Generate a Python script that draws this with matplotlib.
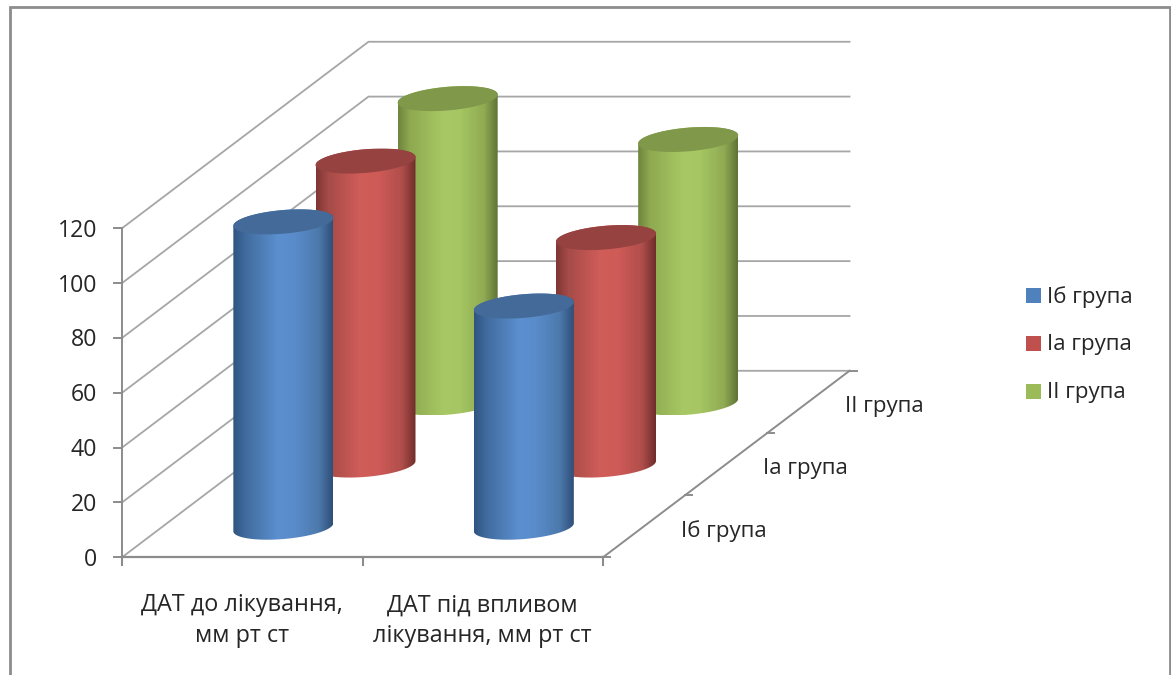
import numpy as np
import matplotlib
matplotlib.use("Agg")
import matplotlib.pyplot as plt
from matplotlib.path import Path
from matplotlib.patches import PathPatch
from matplotlib.colors import to_rgb

# Data
categories = ["ДАТ до лікування,\nмм рт ст", "ДАТ під впливом\nлікування, мм рт ст"]
groups = ["Іб група", "Іа група", "ІІ група"]
group_ib = [111.0, 80.3]
group_ia = [110.5, 82.6]
group_ii = [110.6, 95.7]
value_ticks = [0, 20, 40, 60, 80, 100, 120]

legend_colors = ["#4F81BD", "#C0504D", "#9BBB59"]
cap_colors = ["#436A98", "#964240", "#7F984A"]
side_stops = [
    ["#2F5480", "#406B9E", "#5B8FCF", "#5A8CCB", "#4C79AC", "#2F4F78"],
    ["#7E3634", "#A54B48", "#D15D59", "#CF5B57", "#B04E4B", "#6F2D2B"],
    ["#6E853D", "#8EA950", "#A7C864", "#A5C662", "#90AB53", "#5F7336"],
]
stop_pos = [0.0, 0.12, 0.45, 0.62, 0.86, 1.0]

# Oblique projection: front-left floor corner, front width, depth vector, height scale
ORIGIN = np.array([122.0, 557.3])
WIDTH = 481.0
DEPTH = np.array([246.5, -186.5])
UNIT = 2.742
GRID = "#A6A6A6"
TICK = "#8C8C8C"
TEXT = "#262626"
FONT = "Open Sans"


def project(x, d, v):
    """Map category position x (0..1), depth d (0..1), value v to canvas coordinates."""
    return (ORIGIN[0] + WIDTH * x + DEPTH[0] * d,
            ORIGIN[1] + DEPTH[1] * d - UNIT * v)


def ring(cx, cy, t):
    # Circle on the floor plane seen through the oblique projection
    R, ux, uy = 47.3, 16.2, -12.5
    return cx + R * np.cos(t) + ux * np.sin(t), cy + uy * np.sin(t)


def cylinder(ax, x, d, v, stops, cap, z):
    R, ux = 47.3, 16.2
    half = np.hypot(R, ux)
    t_r = np.arctan2(ux, R)
    bx, by = project(x, d, 0)
    tx, ty = project(x, d, v)
    front = np.linspace(t_r + np.pi, t_r + 2 * np.pi, 60)
    back = np.linspace(t_r, t_r + np.pi, 60)
    px1, py1 = ring(bx, by + 1, front)
    px2, py2 = ring(tx, ty, back)
    verts = np.column_stack([np.r_[px1, px2], np.r_[py1, py2]])
    clip = PathPatch(Path(np.vstack([verts, verts[0]]), closed=True), fc="none", ec="none",
                     transform=ax.transData)
    ax.add_patch(clip)
    pos = np.linspace(0, 1, 256)
    rgb = np.array([to_rgb(c) for c in stops])
    grad = np.stack([np.interp(pos, stop_pos, rgb[:, k]) for k in range(3)], axis=-1)[None, :, :]
    low = min(py2.min(), py1.min())
    high = max(py2.max(), py1.max())
    im = ax.imshow(grad, extent=(bx - half, bx + half, high, low), aspect="auto",
                   interpolation="bilinear", zorder=z)
    im.set_clip_path(clip)
    tt = np.linspace(0, 2 * np.pi, 120)
    cxs, cys = ring(tx, ty, tt)
    ax.fill(cxs, cys, color=cap, lw=0, zorder=z + 0.5)


fig = plt.figure(figsize=(11.71, 6.75), dpi=100, facecolor="white")
ax = fig.add_axes([0, 0, 1, 1])
ax.set_xlim(0, 1171)
ax.set_ylim(675, 0)
ax.axis("off")
ax.set_autoscale_on(False)

# Chart frame
ax.plot([9.5, 9.5, 1169.5, 1169.5], [675, 7, 7, 675], color="#8C8C8C", lw=2.0, zorder=1,
        solid_joinstyle="miter")

# Side and back walls
for v in value_ticks:
    x0, y0 = project(0, 0, v)
    x1, y1 = project(0, 1, v)
    x2, y2 = project(1, 1, v)
    ax.plot([x0, x1, x2], [y0, y1, y2], color=GRID, lw=1.3, zorder=2)
    ax.plot([x0 - 8, x0], [y0, y0], color=TICK, lw=1.4, zorder=2)
    ax.text(x0 - 25, y0 + 2.5, str(v), ha="right", va="center", fontsize=16.6, color=TEXT,
            family=FONT)

# Axis lines
xa, ya = project(0, 0, 0)
xb, yb = project(0, 0, 120)
ax.plot([xa, xb], [ya, yb], color=TICK, lw=1.4, zorder=2)
xc, yc = project(1, 0, 0)
ax.plot([xa, xc], [ya, yc], color=TICK, lw=1.6, zorder=2)
xd, yd = project(1, 1, 0)
ax.plot([xc, xd], [yc, yd], color=TICK, lw=1.4, zorder=2)

# Category ticks and labels
for i in range(3):
    x, y = project(i / 2, 0, 0)
    ax.plot([x, x], [y, y + 8], color=TICK, lw=1.5, zorder=2)
for i, label in enumerate(categories):
    x, y = project((i + 0.5) / 2, 0, 0)
    ax.text(x, y + 63.5, label, ha="center", va="center", fontsize=16.8, color=TEXT, family=FONT,
            linespacing=1.4)

# Depth ticks and labels
for i in range(4):
    x, y = project(1, i / 3, 0)
    ax.plot([x, x + 7], [y, y], color=TICK, lw=1.4, zorder=2)
for i, label in enumerate(groups):
    x, y = project(1, (i + 0.5) / 3, 0)
    ax.text(x + 37, y + 4.5, label, ha="left", va="center", fontsize=16.0, color=TEXT, family=FONT)

# Cylinders, far rows first so nearer ones cover them
rows = [group_ib, group_ia, group_ii]
z = 3
for row in (2, 1, 0):
    for cat in range(2):
        cylinder(ax, (cat + 0.5) / 2, (row + 0.5) / 3, rows[row][cat],
                 side_stops[row], cap_colors[row], z)
        z += 1

# Legend
for i, label in enumerate(groups):
    y = 295.7 + 47.9 * i
    ax.fill([1026, 1041, 1041, 1026], [y - 7.5, y - 7.5, y + 7.5, y + 7.5],
            color=legend_colors[i], lw=0, zorder=2)
    ax.text(1047, y + 1, label, ha="left", va="center", fontsize=16.0, color=TEXT, family=FONT)

fig.savefig("out.png", dpi=100, facecolor="white")
